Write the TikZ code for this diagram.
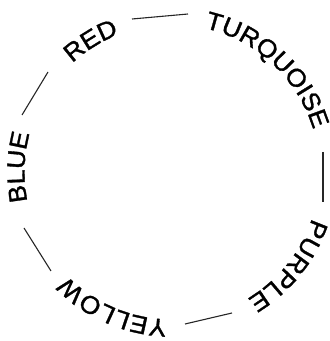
\documentclass[tikz,border=0pt]{standalone}
\usepackage{fontspec}
\newfontfamily\ringfont{Liberation Sans}[FakeStretch=1.05, FakeBold=1.3]
\usetikzlibrary{decorations.text}

\begin{document}
\begin{tikzpicture}[x=1pt, y=1pt,
  ring/.style={decorate, decoration={text along path, text align=fit to path,
               text={|\ringfont\fontsize{25}{30}\selectfont|#1}}},
  link/.style={line width=1.1pt, black!85},
]
  \useasboundingbox (0,0) rectangle (330,341);
  \coordinate (c) at (172,169);

  % words, read clockwise round the ring
  \path[ring=RED]       (c) ++(132.5:147.5) arc[start angle=132.5, end angle=112.1, radius=147.5];
  \path[ring=TURQUOISE] (c) ++(77.3:147.5)  arc[start angle=77.3,  end angle=18.8,  radius=147.5];
  \path[ring=PURPLE]    (c) ++(-18.3:147.5) arc[start angle=-18.3, end angle=-59.3, radius=147.5];
  \path[ring=YELLOW]    (c) ++(-91.9:147.5) arc[start angle=-91.9, end angle=-135.4, radius=147.5];
  \path[ring=BLUE]      (c) ++(191.5:147.5) arc[start angle=191.5, end angle=165.2, radius=147.5];

  % line ends
  \coordinate (br1) at (22,226);  \coordinate (br2) at (48,269);
  \coordinate (rt1) at (132,322); \coordinate (rt2) at (188,327);
  \coordinate (tp1) at (323,189); \coordinate (tp2) at (323,139);
  \coordinate (py1) at (232,28);  \coordinate (py2) at (185,17);
  \coordinate (yb1) at (51,70);   \coordinate (yb2) at (24,113);

  \draw[link] (br1) -- (br2);
  \draw[link] (rt1) -- (rt2);
  \draw[link] (tp1) -- (tp2);
  \draw[link] (py1) -- (py2);
  \draw[link] (yb1) -- (yb2);
\end{tikzpicture}
\end{document}
